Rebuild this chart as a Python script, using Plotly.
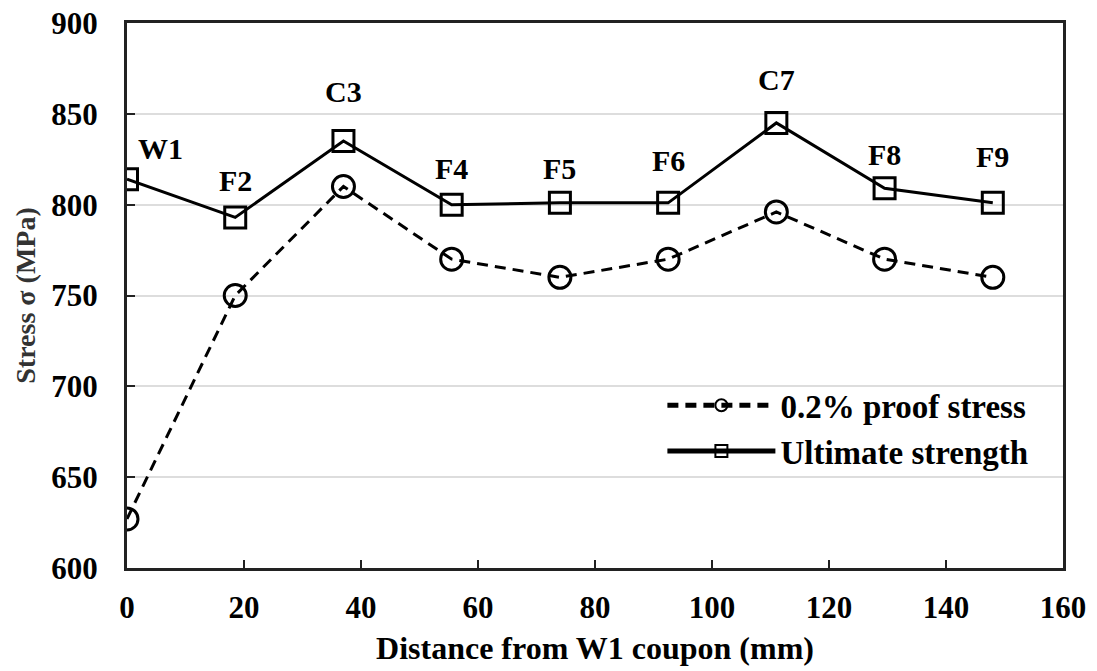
import plotly.graph_objects as go

distance_mm = [0, 18.5, 37, 55.5, 74, 92.5, 111, 129.5, 148]
coupon_labels = ["W1", "F2", "C3", "F4", "F5", "F6", "C7", "F8", "F9"]
proof_stress = [627, 750, 810, 770, 760, 770, 796, 770, 760]
ultimate_strength = [814, 793, 835, 800, 801, 801, 845, 809, 801]
x_ticks = [0, 20, 40, 60, 80, 100, 120, 140, 160]
y_ticks = [600, 650, 700, 750, 800, 850, 900]

# label offsets (pixels) relative to the ultimate-strength markers
label_dx = [33, 0, 0, 0, 0, 0, 0, 0, 0]
label_dy = [31, 37, 50, 36, 34, 42, 43, 34, 46]

FONT = "Liberation Serif"

fig = go.Figure()
fig.add_trace(go.Scatter(
    x=distance_mm, y=proof_stress, mode="lines+markers", name="<b>0.2% proof stress</b>",
    line=dict(color="black", width=3, dash="11px,7px"),
    marker=dict(symbol="circle-open", size=22, color="black", line=dict(width=3, color="black")),
))
fig.add_trace(go.Scatter(
    x=distance_mm, y=ultimate_strength, mode="lines+markers", name="<b>Ultimate strength</b>",
    line=dict(color="black", width=3),
    marker=dict(symbol="square-open", size=21, color="black", line=dict(width=3, color="black")),
))

for xv, yv, t, dx, dy in zip(distance_mm, ultimate_strength, coupon_labels, label_dx, label_dy):
    fig.add_annotation(x=xv, y=yv, text=f"<b>{t}</b>", showarrow=False,
                       xshift=dx, yshift=dy, font=dict(family=FONT, size=30, color="black"))

fig.update_layout(
    width=1097, height=671,
    margin=dict(l=127, r=34, t=23, b=103),
    paper_bgcolor="white", plot_bgcolor="white",
    font=dict(family=FONT, color="black"),
    showlegend=True,
    legend=dict(x=0.572, y=0.35, xanchor="left", yanchor="top", bgcolor="rgba(0,0,0,0)",
                font=dict(family=FONT, size=33, color="black"), itemwidth=108,
                itemsizing="constant", tracegroupgap=0),
)
fig.update_xaxes(
    range=[0, 160], tickvals=x_ticks, ticktext=[f"<b>{v}</b>" for v in x_ticks],
    showline=True, linecolor="#222", linewidth=3, mirror=True, automargin=False,
    ticks="inside", ticklen=8, tickwidth=2, tickcolor="#222",
    showgrid=False, zeroline=False, ticklabelstandoff=10,
    tickfont=dict(family=FONT, size=31, color="black"),
    title=dict(text="<b>Distance from W1 coupon (mm)</b>", font=dict(family=FONT, size=32, color="black"), standoff=13),
)
fig.update_yaxes(
    range=[600, 900], tickvals=y_ticks, ticktext=[f"<b>{v}</b>" for v in y_ticks],
    showline=True, linecolor="#222", linewidth=3, mirror=True, automargin=False,
    ticks="inside", ticklen=8, tickwidth=2, tickcolor="#222",
    showgrid=True, gridcolor="#dddddd", gridwidth=2, zeroline=False, ticklabelstandoff=20,
    tickfont=dict(family=FONT, size=31, color="black"),
    title=dict(text="<b>Stress σ (MPa)</b>", font=dict(family=FONT, size=28, color="#333"), standoff=8),
)

fig.write_html("out.html")
